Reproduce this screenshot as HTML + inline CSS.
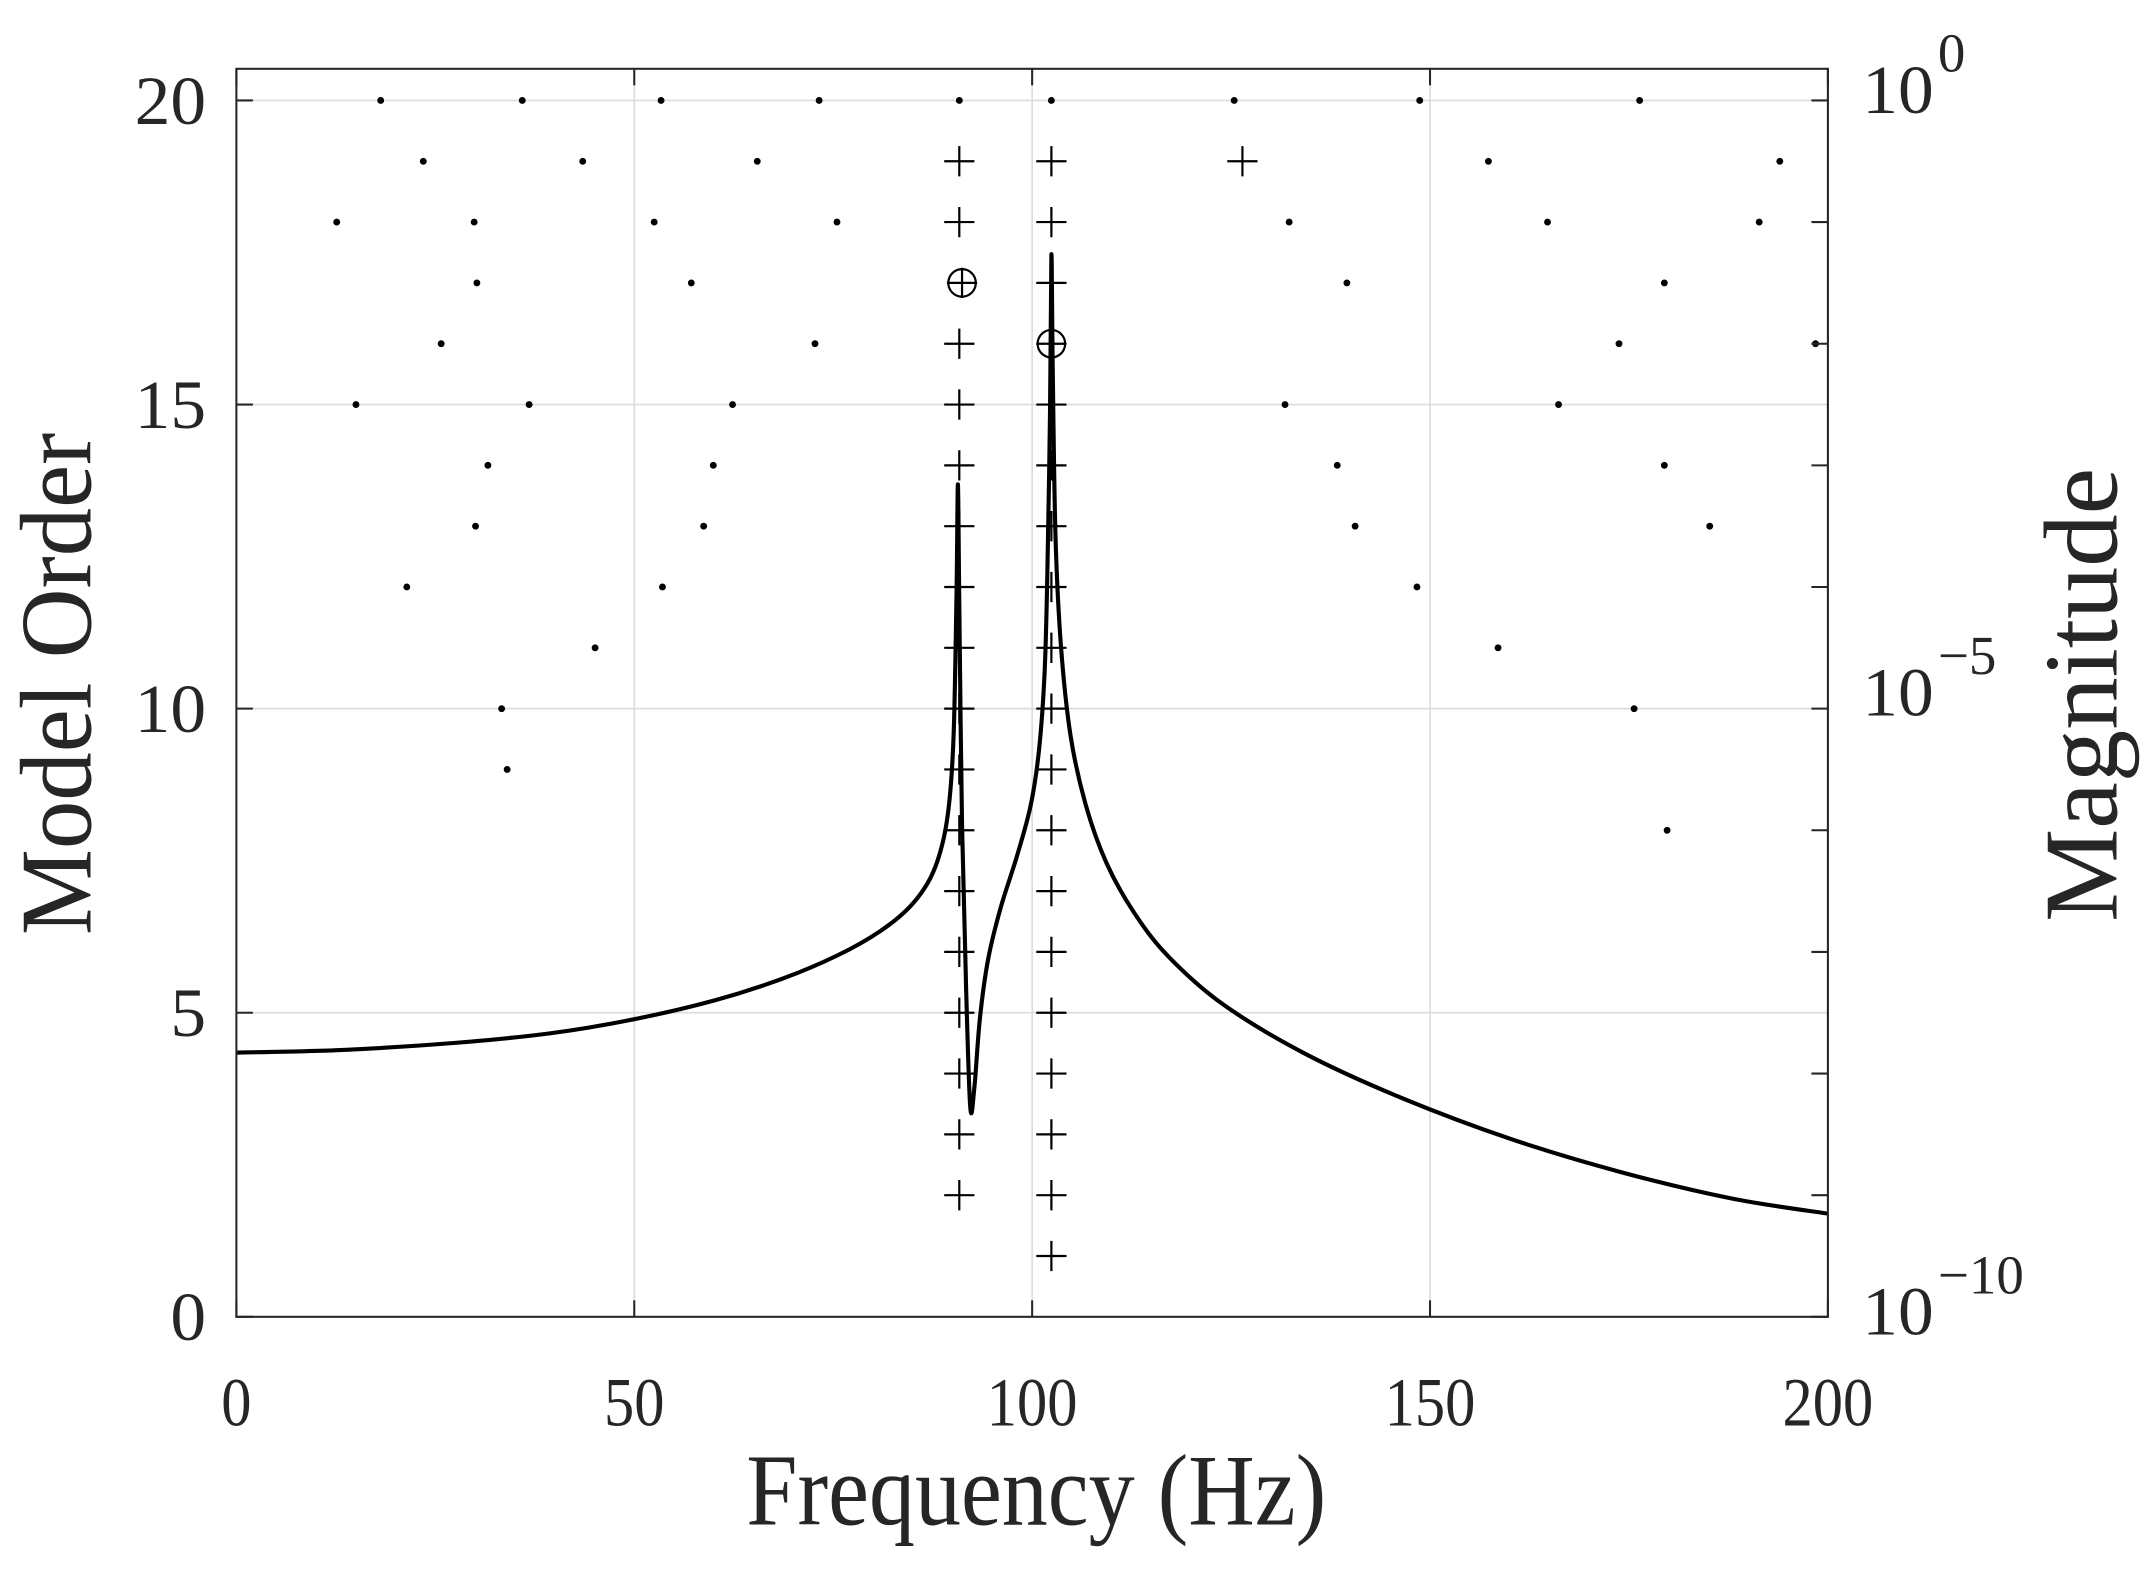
<!DOCTYPE html>
<html><head><meta charset="utf-8"><style>
html,body{margin:0;padding:0;background:#fff;}
svg{display:block}
text{font-family:"Liberation Serif",serif;fill:#262626}
</style></head><body>
<svg id="s" width="2155" height="1570" viewBox="0 0 1568 1141" preserveAspectRatio="none" xmlns="http://www.w3.org/2000/svg">
<rect x="0" y="0" width="1568" height="1141" fill="#fff"/>
<g id="grid" stroke="#dcdcdc" stroke-width="1.2"></g>
<g id="marks"></g>
<path id="curve" fill="none" stroke="#000" stroke-width="3" stroke-linejoin="round"/>
<rect x="172" y="50" width="1158" height="907" fill="none" stroke="#262626" stroke-width="1.5"/>
<g id="ticks" stroke="#262626" stroke-width="1.5"></g>
<g id="labels" font-size="50"></g>
<text x="754" y="1108" font-size="74" text-anchor="middle" textLength="422" lengthAdjust="spacingAndGlyphs">Frequency (Hz)</text>
<text transform="translate(66,497) rotate(-90)" font-size="74" text-anchor="middle" textLength="365" lengthAdjust="spacingAndGlyphs">Model Order</text>
<text transform="translate(1540,505) rotate(-90)" font-size="76" text-anchor="middle" textLength="330" lengthAdjust="spacingAndGlyphs">Magnitude</text>
</svg>
<script>
const NS="http://www.w3.org/2000/svg";
function el(p,t,a,txt){const e=document.createElementNS(NS,t);for(const k in a)e.setAttribute(k,a[k]);if(txt!==undefined)e.textContent=txt;p.appendChild(e);return e;}
const X=f=>172+f*5.79, Y=o=>957-o*44.2;
const g=document.getElementById('grid'),tk=document.getElementById('ticks'),lb=document.getElementById('labels'),mk=document.getElementById('marks');
for(let f=50;f<200;f+=50)el(g,'line',{x1:X(f),x2:X(f),y1:50,y2:957});
for(let o=5;o<=20;o+=5)el(g,'line',{x1:172,x2:1330,y1:Y(o),y2:Y(o)});
for(let f=0;f<=200;f+=50){el(tk,'line',{x1:X(f),x2:X(f),y1:957,y2:945});el(tk,'line',{x1:X(f),x2:X(f),y1:50,y2:62});
 el(lb,'text',{x:X(f),y:1036,'text-anchor':'middle',textLength:String(f).length*22,lengthAdjust:'spacingAndGlyphs'},String(f));}
for(let o=0;o<=20;o+=5){el(tk,'line',{x1:172,x2:184,y1:Y(o),y2:Y(o)});
 el(lb,'text',{x:150,y:Y(o)+17,'text-anchor':'end',textLength:String(o).length*26,lengthAdjust:'spacingAndGlyphs'},String(o));}
for(let d=0;d<=10;d++){const y=73+d*88.4;el(tk,'line',{x1:1330,x2:1318,y1:y,y2:y});}
[["0",82],["−5",520],["−10",970]].forEach(([e,y])=>{
 el(lb,'text',{x:1355,y:y,textLength:52,lengthAdjust:'spacingAndGlyphs'},"10");
 el(lb,'text',{x:1410,y:y-30,'font-size':40},e);});
const dots={20:[277,380,481,596,698,765,898,1033,1193],19:[308,424,551,1083,1295],18:[245,345,476,609,938,1126,1280],
17:[347,503,980,1211],16:[321,593,1178,1321],15:[259,385,533,935,1134],14:[355,519,973,1211],13:[346,512,986,1244],
12:[296,482,1031],11:[433,1090],10:[365,1189],9:[369],8:[1213]};
for(const o in dots)dots[o].forEach(x=>el(mk,'circle',{cx:x,cy:Y(+o),r:2.5,fill:'#000'}));
function plus(x,y){el(mk,'path',{d:`M${x-11} ${y}H${x+11}M${x} ${y-11}V${y+11}`,stroke:'#000','stroke-width':1.6,fill:'none'});}
function cplus(x,y){el(mk,'circle',{cx:x,cy:y,r:10,fill:'none',stroke:'#000','stroke-width':1.6});plus(x,y);}
for(let o=2;o<=19;o++){if(o==17)cplus(700,Y(17));else plus(698,Y(o));}
plus(904,Y(19));
for(let o=1;o<=19;o++){if(o==16)cplus(765,Y(16));else plus(765,Y(o));}
const pts=[[172,765],[250,763],[330,758],[400,751],[460,741],[520,727],[570,711],[610,694],[640,677],[662,659],[677,638],[686,612],[691,580],[694,530],[696,430],[697,352],[698,440],[700,600],[703,720],[706,805],[709,790],[713,740],[719,697],[728,660],[740,622],[750,585],[756,545],[760,490],[762,420],[764,300],[765,185],[766,270],[768,390],[772,470],[779,535],[790,585],[805,627],[825,663],[850,695],[890,730],[950,766],[1020,798],[1100,828],[1180,852],[1260,871],[1330,882]];
let d='M'+pts[0].join(' ');
for(let i=0;i<pts.length-1;i++){const p0=pts[Math.max(0,i-1)],p1=pts[i],p2=pts[i+1],p3=pts[Math.min(pts.length-1,i+2)];
 const c1=[p1[0]+(p2[0]-p0[0])/6,p1[1]+(p2[1]-p0[1])/6],c2=[p2[0]-(p3[0]-p1[0])/6,p2[1]-(p3[1]-p1[1])/6];
 d+=`C${c1[0]} ${c1[1]} ${c2[0]} ${c2[1]} ${p2[0]} ${p2[1]}`;}
document.getElementById('curve').setAttribute('d',d);
</script>
</body></html>
